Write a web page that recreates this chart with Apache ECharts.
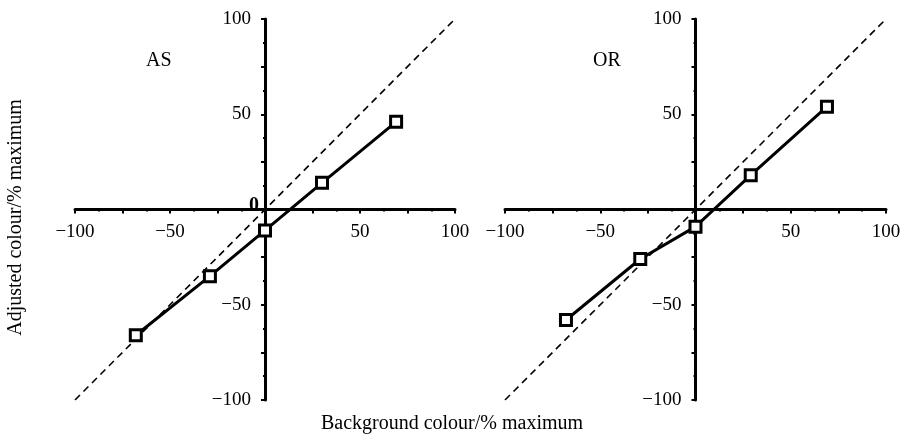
<!DOCTYPE html>
<html>
<head>
<meta charset="utf-8">
<script src="https://cdn.jsdelivr.net/npm/echarts@6/dist/echarts.min.js"></script>
<style>html,body{margin:0;padding:0;background:#fff}#c{width:904px;height:435px}</style>
</head>
<body>
<div id="c"></div>
<script>
// Data
var panelNames = ['AS', 'OR'];
var asX = [-68, -29, 0, 30, 69];
var asY = [-66, -35, -11, 14, 46];
var orX = [-68, -29, 0, 29, 69];
var orY = [-58, -26, -9, 18, 54];
var identityX = [-100, 100];
var identityY = [-100, 100];
var tickValues = [-100, -50, 50, 100];
var xTitle = 'Background colour/% maximum';
var yTitle = 'Adjusted colour/% maximum';

var FONT = '"Liberation Serif", "Times New Roman", serif';
function zip(a, b) { return a.map(function (v, i) { return [v, b[i]]; }); }
function fmt(v) {
  if (tickValues.indexOf(v) < 0) return '';
  return v < 0 ? '\u2212' + Math.abs(v) : String(v);
}

var grids = [
  { left: 75, top: 19, width: 380, height: 381 },
  { left: 505, top: 19, width: 381, height: 381 }
];

function makeAxis(kind, idx) {
  var g = grids[idx];
  // move the axis to the zero of the other axis (centre of the grid)
  var off = kind === 'x' ? -g.height / 2 : -g.width / 2;
  return {
    type: 'value', gridIndex: idx, min: -100, max: 100, interval: 25,
    position: kind === 'x' ? 'bottom' : 'left',
    offset: off,
    axisLine: { onZero: false, lineStyle: { color: '#000', width: 3 } },
    axisTick: { show: true, length: 4, lineStyle: { color: '#000', width: 2 } },
    minorTick: { show: true, splitNumber: 2, length: 2, lineStyle: { color: '#000', width: 2 } },
    splitLine: { show: false },
    axisLabel: { formatter: fmt, color: '#000', fontFamily: FONT, fontSize: 19, margin: kind === 'x' ? 13 : 14, showMinLabel: true, showMaxLabel: true, hideOverlap: false }
  };
}

var chart = echarts.init(document.getElementById('c'));
var datasets = [zip(asX, asY), zip(orX, orY)];
var series = [];
[0, 1].forEach(function (i) {
  series.push({
    type: 'line', xAxisIndex: i, yAxisIndex: i, data: zip(identityX, identityY),
    symbol: 'none', silent: true, z: 1,
    lineStyle: { color: '#000', width: 1.6, type: [7, 5] }
  });
  series.push({
    type: 'line', xAxisIndex: i, yAxisIndex: i, data: datasets[i],
    symbol: 'rect', symbolSize: 11, z: 3,
    lineStyle: { color: '#000', width: 3 },
    itemStyle: { color: '#fff', borderColor: '#000', borderWidth: 3 }
  });
});

chart.setOption({
  animation: false,
  grid: grids,
  xAxis: [makeAxis('x', 0), makeAxis('x', 1)],
  yAxis: [makeAxis('y', 0), makeAxis('y', 1)],
  series: series,
  graphic: [
    { type: 'text', left: 146, top: 51, style: { text: panelNames[0], font: '20px ' + FONT, fill: '#000' } },
    { type: 'text', left: 593, top: 51, style: { text: panelNames[1], font: '20px ' + FONT, fill: '#000' } },
    { type: 'text', left: 249, top: 196, z: 10, style: { text: '0', font: 'bold 20px ' + FONT, fill: '#000' } },
    { type: 'text', left: 'center', top: 414, style: { text: xTitle, font: '20px ' + FONT, fill: '#000' } },
    { type: 'text', left: 6, top: 'middle', rotation: Math.PI / 2, style: { text: yTitle, font: '20px ' + FONT, fill: '#000' } }
  ]
});
</script>
</body>
</html>
